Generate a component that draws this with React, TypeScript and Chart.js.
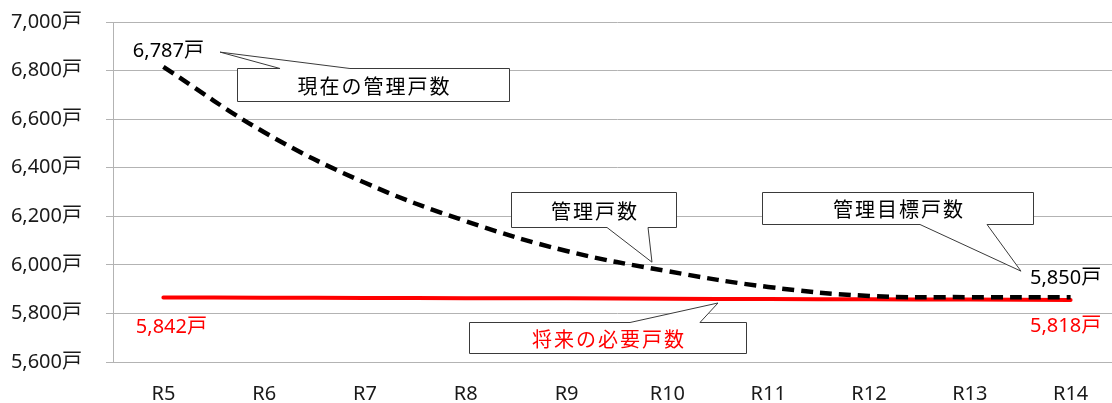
import React, { useEffect, useRef } from "react";
import { Chart, registerables } from "chart.js";

Chart.register(...registerables);

// ---- data ----
const categories = ["R5", "R6", "R7", "R8", "R9", "R10", "R11", "R12", "R13", "R14"];
const managedUnits = [6815, 6546, 6338, 6180, 6057, 5974, 5909, 5872, 5867, 5867];
const requiredUnits = [5866, 5865, 5864, 5863, 5862, 5860, 5859, 5858, 5857, 5855];
const yMin = 5600;
const yMax = 7000;
const yStep = 200;
const unit = "戸";
const currentManagedLabel = 6787;
const targetManagedLabel = 5850;
const requiredStartLabel = 5842;
const requiredEndLabel = 5818;
const calloutTexts = ["現在の管理戸数", "管理戸数", "管理目標戸数", "将来の必要戸数"];

const fmt = (v: number) => v.toLocaleString("en-US") + unit;

// ---- layout (annotation geometry in axis coordinates) ----
type Callout = {
  text: string;
  color: string;
  x0: number; x1: number; yTop: number; yBottom: number;
  side: "top" | "bottom";
  base0: number; base1: number;
  tipX: number; tipY: number;
};

const callouts: Callout[] = [
  { text: calloutTexts[0], color: "#000000", x0: 0.730, x1: 3.429, yTop: 6810, yBottom: 6674, side: "top", base0: 1.157, base1: 1.851, tipX: 0.562, tipY: 6876 },
  { text: calloutTexts[1], color: "#000000", x0: 3.448, x1: 5.085, yTop: 6300, yBottom: 6156, side: "bottom", base0: 4.401, base1: 4.808, tipX: 4.847, tipY: 6011 },
  { text: calloutTexts[2], color: "#000000", x0: 5.938, x1: 8.627, yTop: 6300, yBottom: 6168, side: "bottom", base0: 7.506, base1: 8.171, tipX: 8.508, tipY: 5974 },
  { text: calloutTexts[3], color: "#ff0000", x0: 3.032, x1: 5.780, yTop: 5765, yBottom: 5637, side: "top", base0: 4.629, base1: 5.323, tipX: 5.502, tipY: 5843 },
];

const LATIN = "'Noto Sans', 'Noto Sans CJK JP', sans-serif";
const CJK = "'Noto Sans CJK JP', sans-serif";

const annotationPlugin = {
  id: "callouts",
  afterDatasetsDraw(chart: any) {
    const { ctx } = chart;
    const xs = chart.scales.x;
    const ys = chart.scales.y;
    const r = (v: number) => Math.round(v) + 0.5;
    ctx.save();
    for (const c of callouts) {
      const l = r(xs.getPixelForValue(c.x0));
      const rt = r(xs.getPixelForValue(c.x1));
      const t = r(ys.getPixelForValue(c.yTop));
      const b = r(ys.getPixelForValue(c.yBottom));
      const b0 = xs.getPixelForValue(c.base0);
      const b1 = xs.getPixelForValue(c.base1);
      const tx = xs.getPixelForValue(c.tipX);
      const ty = ys.getPixelForValue(c.tipY);
      ctx.beginPath();
      if (c.side === "top") {
        ctx.moveTo(l, t);
        ctx.lineTo(b0, t);
        ctx.lineTo(tx, ty);
        ctx.lineTo(b1, t);
        ctx.lineTo(rt, t);
        ctx.lineTo(rt, b);
        ctx.lineTo(l, b);
      } else {
        ctx.moveTo(l, t);
        ctx.lineTo(rt, t);
        ctx.lineTo(rt, b);
        ctx.lineTo(b1, b);
        ctx.lineTo(tx, ty);
        ctx.lineTo(b0, b);
        ctx.lineTo(l, b);
      }
      ctx.closePath();
      ctx.fillStyle = "#ffffff";
      ctx.fill();
      ctx.strokeStyle = "#3a3a3a";
      ctx.lineWidth = 1;
      ctx.stroke();
      ctx.fillStyle = c.color;
      ctx.font = `20px ${CJK}`;
      (ctx as any).letterSpacing = "2px";
      ctx.textAlign = "center";
      ctx.textBaseline = "middle";
      ctx.fillText(c.text, (l + rt) / 2 + 1, (t + b) / 2 + 1);
      (ctx as any).letterSpacing = "0px";
    }

    // value labels near the line ends
    const m0 = chart.getDatasetMeta(0).data;
    const m1 = chart.getDatasetMeta(1).data;
    const last = categories.length - 1;
    const labels = [
      { text: fmt(currentManagedLabel), color: "#000000", p: m0[0], dx: 5, dy: -16 },
      { text: fmt(targetManagedLabel), color: "#000000", p: m0[last], dx: -5, dy: -19 },
      { text: fmt(requiredStartLabel), color: "#ff0000", p: m1[0], dx: 8, dy: 30 },
      { text: fmt(requiredEndLabel), color: "#ff0000", p: m1[last], dx: -5, dy: 26 },
    ];
    ctx.font = `20px ${LATIN}`;
    ctx.textAlign = "center";
    ctx.textBaseline = "middle";
    for (const lb of labels) {
      ctx.fillStyle = lb.color;
      ctx.fillText(lb.text, lb.p.x + lb.dx, lb.p.y + lb.dy);
    }
    ctx.restore();
  },
};

export default function App() {
  const ref = useRef<HTMLCanvasElement | null>(null);

  useEffect(() => {
    if (!ref.current) return;
    const chart = new Chart(ref.current, {
      type: "line",
      data: {
        labels: categories,
        datasets: [
          {
            label: "管理戸数",
            data: managedUnits,
            borderColor: "#000000",
            borderWidth: 4.5,
            borderDash: [12, 7],
            pointRadius: 0,
            tension: 0.4,
            fill: false,
          },
          {
            label: "将来の必要戸数",
            data: requiredUnits,
            borderColor: "#ff0000",
            borderWidth: 4,
            borderCapStyle: "round",
            pointRadius: 0,
            tension: 0.4,
            fill: false,
          },
        ],
      },
      options: {
        animation: false,
        responsive: false,
        devicePixelRatio: 1,
        layout: { padding: { top: 22, right: 1, left: 0, bottom: 0 } },
        plugins: {
          legend: { display: false },
          tooltip: { enabled: false },
        },
        scales: {
          x: {
            offset: true,
            grid: { display: false, drawTicks: false },
            border: { display: true, color: "#b3b3b3", width: 1 },
            ticks: {
              padding: 20,
              color: "#1a1a1a",
              font: { family: LATIN, size: 20 },
              maxRotation: 0,
            },
            afterFit: (s: any) => {
              s.height = 41;
              s.paddingLeft = 0;
              s.paddingRight = 0;
            },
          },
          y: {
            min: yMin,
            max: yMax,
            grid: { color: "#b3b3b3", lineWidth: 1, drawTicks: true, tickLength: 7 },
            border: { display: true, color: "#b3b3b3", width: 1 },
            ticks: {
              stepSize: yStep,
              padding: 24,
              color: "#1a1a1a",
              font: { family: LATIN, size: 20 },
              callback: (v: any) => fmt(Number(v)),
            },
            afterFit: (s: any) => {
              s.width = 113;
              s.paddingTop = 0;
              s.paddingBottom = 0;
            },
          },
        },
      },
      plugins: [annotationPlugin],
    });
    return () => chart.destroy();
  }, []);

  return (
    <div style={{ position: "fixed", left: 0, top: 0, width: 1112, height: 403, overflow: "hidden", background: "#ffffff" }}>
      <canvas ref={ref} width={1122} height={403} style={{ width: 1122, height: 403, display: "block" }} />
    </div>
  );
}
